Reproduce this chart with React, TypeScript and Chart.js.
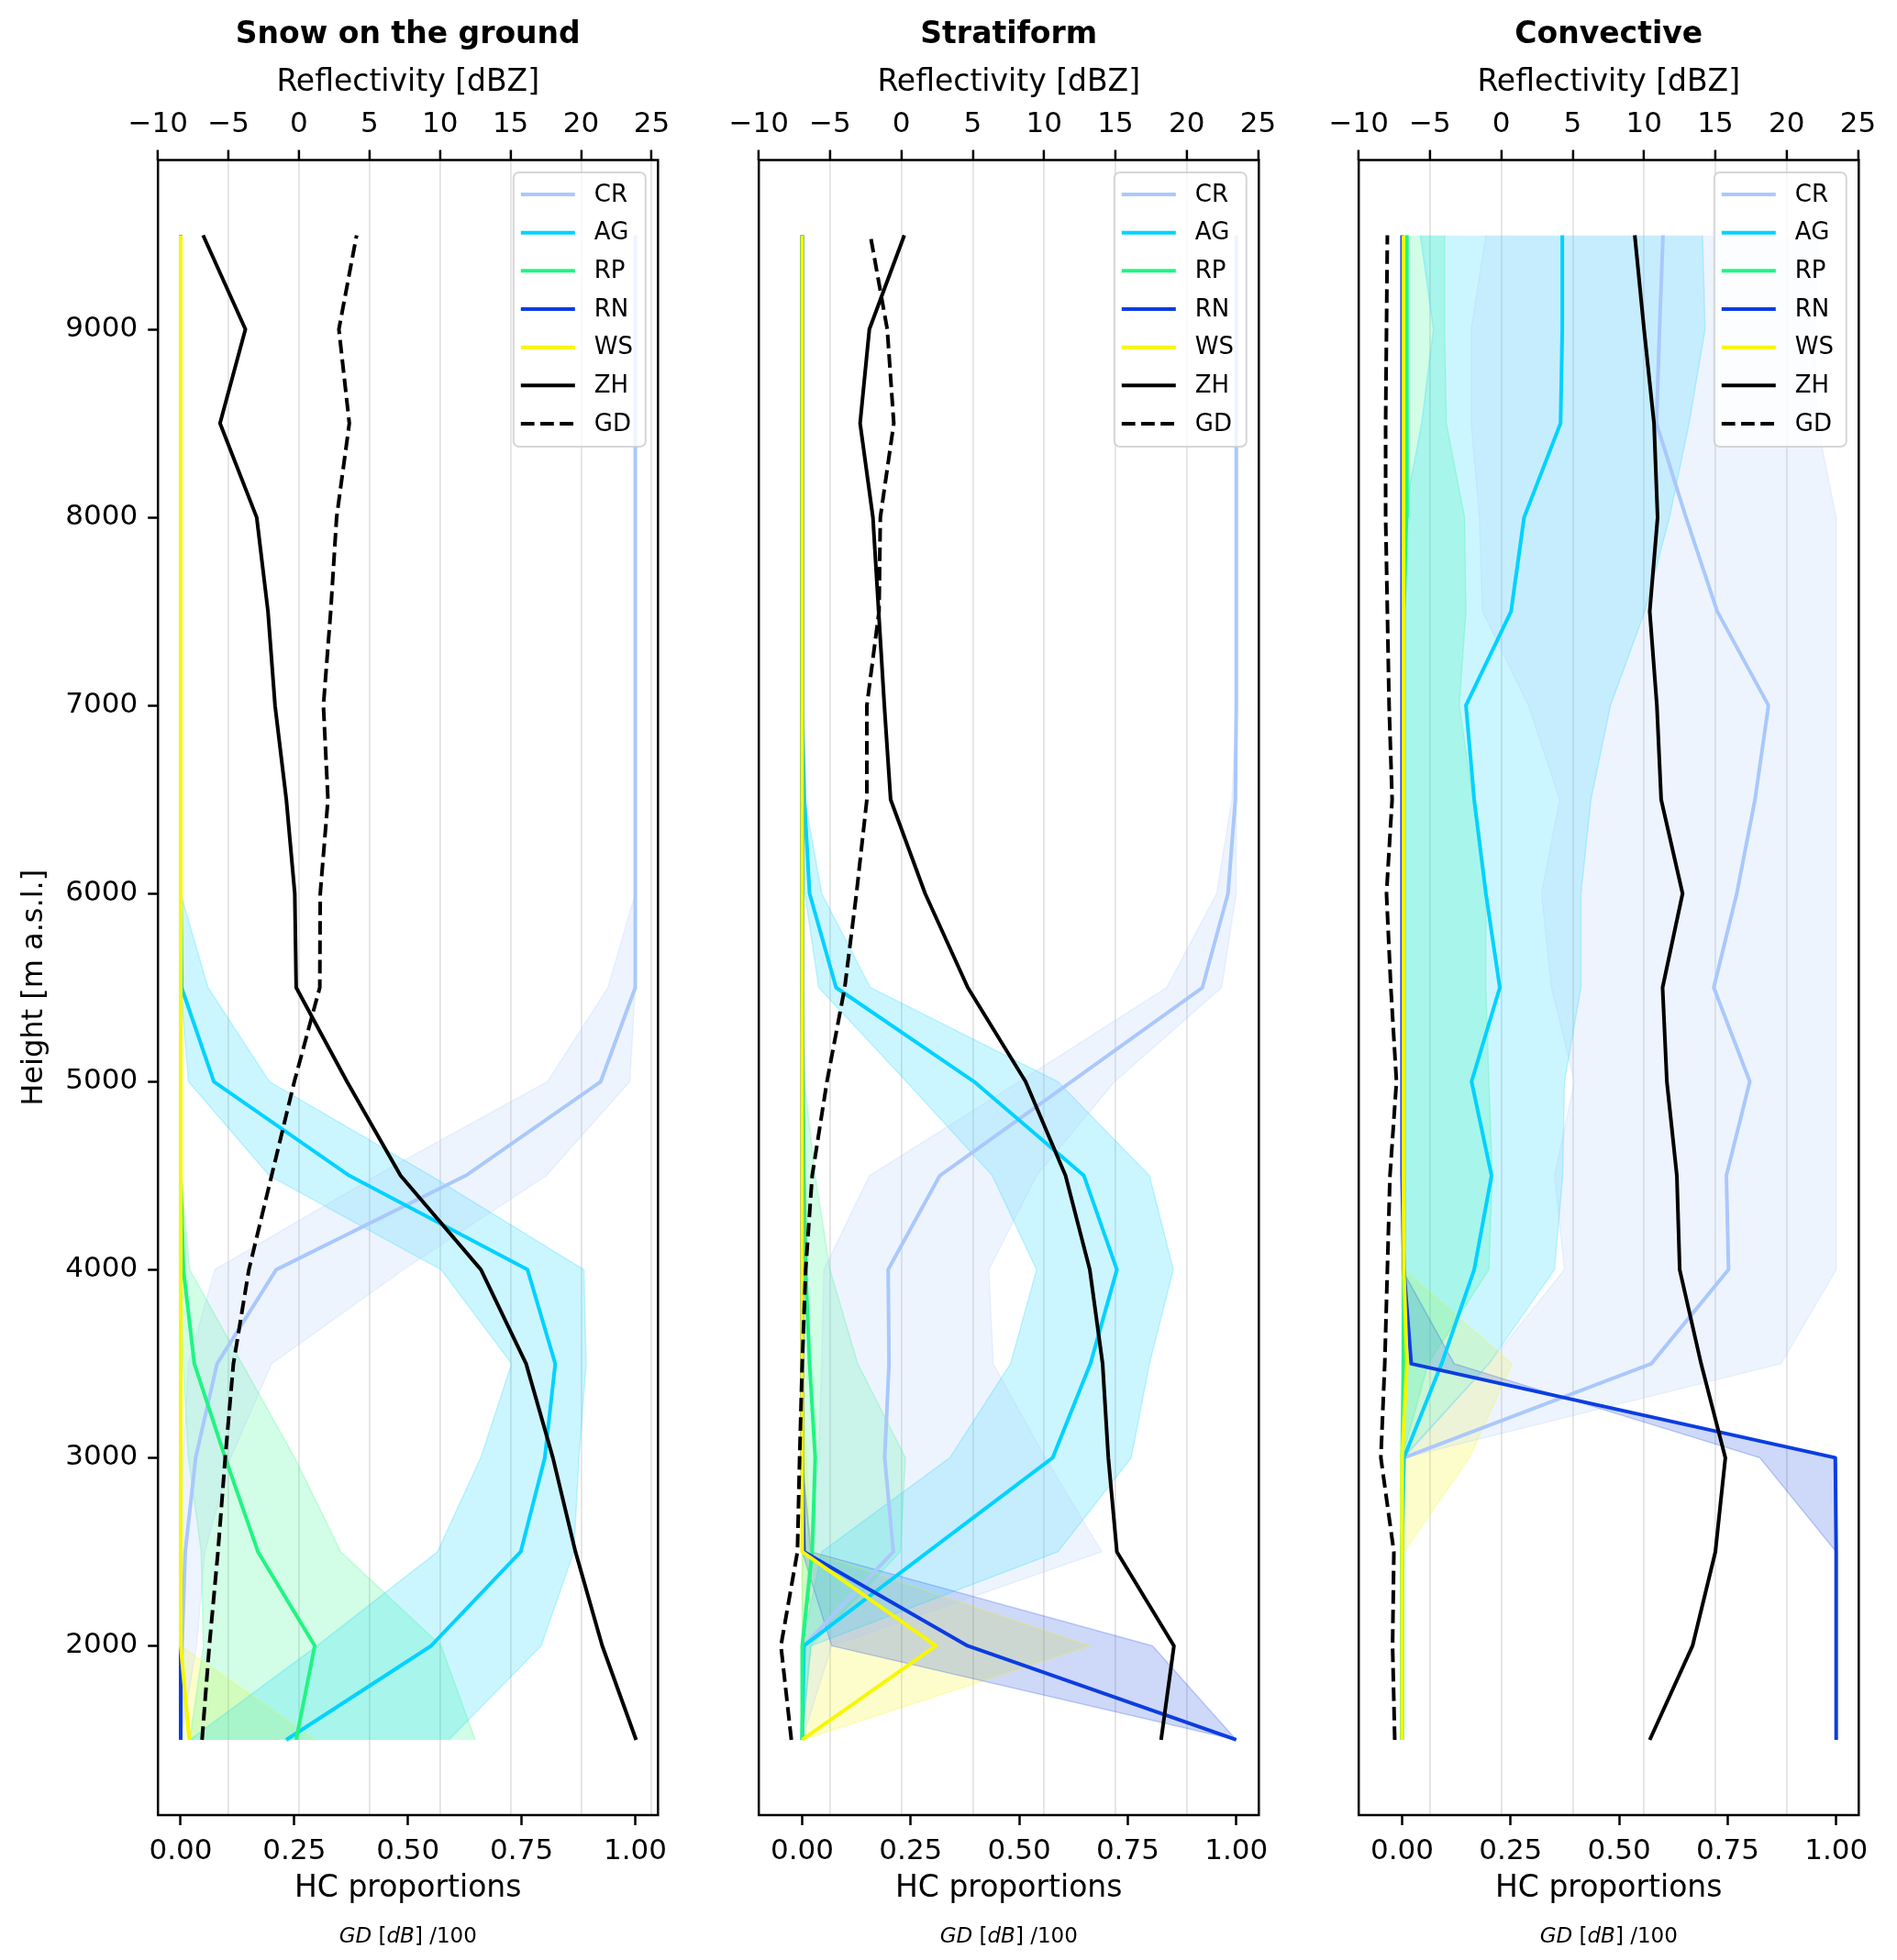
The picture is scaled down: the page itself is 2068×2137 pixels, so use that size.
import React, { useEffect, useRef } from 'react';
import { Chart, registerables } from 'chart.js';

Chart.register(...registerables);
Chart.defaults.font.family = '"DejaVu Sans", sans-serif';
Chart.defaults.color = '#000';

// heights of the profile levels [m a.s.l.]
const heights = [1500, 2000, 2500, 3000, 3500, 4000, 4500, 5000, 5500, 6000, 6500, 7000, 7500, 8000, 8500, 9000, 9500];

const zhTicks = [-10, -5, 0, 5, 10, 15, 20, 25];
const hcTicks = [0, 0.25, 0.5, 0.75, 1];
const heightTicks = [2000, 3000, 4000, 5000, 6000, 7000, 8000, 9000];

const hcNames = ['CR', 'AG', 'RP', 'RN', 'WS'];
const hcColors = ['#aac8fc', '#00d2ff', '#20f582', '#0b3de0', '#f7f700'];

// Snow on the ground
const snowZH = [23.9, 21.5, 19.6, 18.0, 16.1, 12.9, 7.2, 3.4, -0.2, -0.3, -0.9, -1.7, -2.2, -3.0, -5.6, -3.8, -6.8];
const snowGD = [0.047, 0.063, 0.082, 0.098, 0.116, 0.15, 0.2, 0.25, 0.306, 0.307, 0.324, 0.314, 0.33, 0.343, 0.371, 0.348, 0.387];
const snowCR = [0, 0.003, 0.01, 0.033, 0.08, 0.21, 0.627, 0.924, 1, 1, 1, 1, 1, 1, 1, 1, 1];
const snowCRlo = [0, 0, 0, 0.005, 0.017, 0.075, 0.43, 0.807, 0.94, 1, 1, 1, 1, 1, 1, 1, 1];
const snowCRhi = [0, 0.035, 0.053, 0.11, 0.2, 0.49, 0.804, 0.988, 1, 1, 1, 1, 1, 1, 1, 1, 1];
const snowAG = [0.232, 0.551, 0.748, 0.801, 0.824, 0.763, 0.371, 0.073, 0.002, 0, 0, 0, 0, 0, 0, 0, 0];
const snowAGlo = [0.02, 0.3, 0.565, 0.66, 0.728, 0.573, 0.195, 0.017, 0, 0, 0, 0, 0, 0, 0, 0, 0];
const snowAGhi = [0.59, 0.793, 0.865, 0.876, 0.892, 0.887, 0.55, 0.195, 0.06, 0, 0, 0, 0, 0, 0, 0, 0];
const snowRP = [0.254, 0.295, 0.17, 0.098, 0.03, 0.006, 0, 0, 0, 0, 0, 0, 0, 0, 0, 0, 0];
const snowRPlo = [0.02, 0.05, 0.045, 0.017, 0.005, 0, 0, 0, 0, 0, 0, 0, 0, 0, 0, 0, 0];
const snowRPhi = [0.648, 0.573, 0.352, 0.251, 0.135, 0.02, 0, 0, 0, 0, 0, 0, 0, 0, 0, 0, 0];
const snowRN = [0, 0, 0, 0, 0, 0, 0, 0, 0, 0, 0, 0, 0, 0, 0, 0, 0];
const snowRNlo = [0, 0, 0, 0, 0, 0, 0, 0, 0, 0, 0, 0, 0, 0, 0, 0, 0];
const snowRNhi = [0, 0, 0, 0, 0, 0, 0, 0, 0, 0, 0, 0, 0, 0, 0, 0, 0];
const snowWS = [0.019, 0, 0, 0, 0, 0, 0, 0, 0, 0, 0, 0, 0, 0, 0, 0, 0];
const snowWSlo = [0, 0, 0, 0, 0, 0, 0, 0, 0, 0, 0, 0, 0, 0, 0, 0, 0];
const snowWShi = [0.295, 0, 0, 0, 0, 0, 0, 0, 0, 0, 0, 0, 0, 0, 0, 0, 0];

// Stratiform
const stratZH = [18.2, 19.1, 15.1, 14.5, 14.1, 13.2, 11.5, 8.7, 4.65, 1.66, -0.76, -1.2, -1.6, -2.0, -2.9, -2.25, 0.2];
const stratGD = [-0.025, -0.049, -0.011, -0.006, 0.0, 0.008, 0.023, 0.057, 0.098, 0.125, 0.149, 0.149, 0.177, 0.18, 0.211, 0.196, 0.157];
const stratCR = [0, 0.004, 0.21, 0.19, 0.2, 0.198, 0.317, 0.62, 0.922, 0.981, 0.998, 1, 1, 1, 1, 1, 1];
const stratCRlo = [0, 0, 0.015, 0.038, 0.045, 0.05, 0.155, 0.5, 0.84, 0.955, 0.99, 1, 1, 1, 1, 1, 1];
const stratCRhi = [0, 0.068, 0.69, 0.56, 0.44, 0.43, 0.54, 0.72, 0.966, 1, 1, 1, 1, 1, 1, 1, 1];
const stratAG = [0, 0.004, 0.29, 0.577, 0.664, 0.725, 0.649, 0.396, 0.078, 0.017, 0.005, 0, 0, 0, 0, 0, 0];
const stratAGlo = [0, 0, 0.045, 0.34, 0.48, 0.54, 0.438, 0.24, 0.038, 0.006, 0, 0, 0, 0, 0, 0, 0];
const stratAGhi = [0, 0.02, 0.589, 0.758, 0.8, 0.855, 0.8, 0.589, 0.157, 0.045, 0.006, 0, 0, 0, 0, 0, 0];
const stratRP = [0, 0, 0.023, 0.03, 0.017, 0.008, 0.004, 0.002, 0, 0, 0, 0, 0, 0, 0, 0, 0];
const stratRPlo = [0, 0, 0, 0, 0, 0, 0, 0, 0, 0, 0, 0, 0, 0, 0, 0, 0];
const stratRPhi = [0, 0.02, 0.226, 0.238, 0.128, 0.064, 0.03, 0.005, 0, 0, 0, 0, 0, 0, 0, 0, 0];
const stratRN = [1, 0.381, 0.004, 0, 0, 0, 0, 0, 0, 0, 0, 0, 0, 0, 0, 0, 0];
const stratRNlo = [1, 0.068, 0, 0, 0, 0, 0, 0, 0, 0, 0, 0, 0, 0, 0, 0, 0];
const stratRNhi = [1, 0.807, 0.02, 0, 0, 0, 0, 0, 0, 0, 0, 0, 0, 0, 0, 0, 0];
const stratWS = [0, 0.308, 0, 0, 0, 0, 0, 0, 0, 0, 0, 0, 0, 0, 0, 0, 0];
const stratWSlo = [0, 0, 0, 0, 0, 0, 0, 0, 0, 0, 0, 0, 0, 0, 0, 0, 0];
const stratWShi = [0, 0.664, 0.02, 0.01, 0, 0, 0, 0, 0, 0, 0, 0, 0, 0, 0, 0, 0];

// Convective
const convZH = [10.4, 13.4, 15.0, 15.7, 14.0, 12.5, 12.3, 11.6, 11.3, 12.7, 11.2, 10.9, 10.4, 10.95, 10.7, 10.0, 9.35];
const convGD = [-0.017, -0.022, -0.019, -0.049, -0.04, -0.034, -0.028, -0.013, -0.026, -0.036, -0.023, -0.03, -0.034, -0.038, -0.038, -0.036, -0.034];
const convCR = [0, 0, 0, 0.004, 0.574, 0.752, 0.747, 0.801, 0.718, 0.771, 0.813, 0.844, 0.726, 0.654, 0.586, 0.593, 0.601];
const convCRlo = [0, 0, 0, 0, 0.2, 0.374, 0.351, 0.397, 0.344, 0.321, 0.363, 0.291, 0.185, 0.178, 0.159, 0.159, 0.193];
const convCRhi = [0, 0, 0, 0.005, 0.873, 1, 1, 1, 1, 1, 1, 1, 1, 1, 0.956, 0.95, 0.96];
const convAG = [0, 0, 0, 0.004, 0.091, 0.166, 0.206, 0.16, 0.225, 0.193, 0.166, 0.147, 0.251, 0.281, 0.365, 0.369, 0.369];
const convAGlo = [0, 0, 0, 0, 0, 0, 0, 0, 0, 0, 0, 0, 0, 0.004, 0.045, 0.072, 0.042];
const convAGhi = [0, 0, 0, 0.004, 0.2, 0.351, 0.37, 0.374, 0.412, 0.412, 0.435, 0.48, 0.559, 0.616, 0.661, 0.698, 0.692];
const convRP = [0, 0, 0, 0, 0.003, 0.004, 0.004, 0.004, 0.004, 0.004, 0.004, 0.004, 0.004, 0.01, 0.011, 0.011, 0.011];
const convRPlo = [0, 0, 0, 0, 0, 0, 0, 0, 0, 0, 0, 0, 0, 0, 0, 0, 0];
const convRPhi = [0, 0, 0, 0, 0.06, 0.2, 0.208, 0.2, 0.193, 0.193, 0.163, 0.132, 0.147, 0.144, 0.102, 0.098, 0.098];
const convRN = [1, 1, 1, 0.998, 0.021, 0.004, 0, 0, 0, 0, 0, 0, 0, 0, 0, 0, 0];
const convRNlo = [1, 1, 1, 0.824, 0.12, 0, 0, 0, 0, 0, 0, 0, 0, 0, 0, 0, 0];
const convRNhi = [1, 1, 1, 1, 0.021, 0, 0, 0, 0, 0, 0, 0, 0, 0, 0, 0, 0];
const convWS = [0, 0, 0, 0, 0.011, 0.004, 0.003, 0.003, 0.003, 0.003, 0.003, 0.003, 0.003, 0.003, 0.003, 0.003, 0.003];
const convWSlo = [0, 0, 0, 0, 0, 0, 0, 0, 0, 0, 0, 0, 0, 0, 0, 0, 0];
const convWShi = [0, 0, 0.004, 0.155, 0.253, 0.004, 0.003, 0.003, 0.003, 0.003, 0.003, 0.003, 0.003, 0.003, 0.003, 0.003, 0.003];

interface PanelProps {
  title: string;
  zh: number[];
  gd: number[];
  hc: number[][];
  lo: number[][];
  hi: number[][];
  xMin: number;
  xMax: number;
  zMax: number;
  showY: boolean;
  left: number;
}

// canvas geometry (chart area is the same in every panel)
const W = 760;
const H = 2137;
const AREA_LEFT = 172.2;
const AREA_TOP = 174.5;
const AREA_BOTTOM = 1979;
const AREA_RIGHT = 717.3;

const rgba = (hex: string, a: number) => {
  const n = parseInt(hex.slice(1), 16);
  return `rgba(${n >> 16}, ${(n >> 8) & 255}, ${n & 255}, ${a})`;
};

const pts = (vals: number[]) => vals.map((v, i) => ({ x: v, y: heights[i] }));

const minus = (v: number) => (v < 0 ? '\u2212' + Math.abs(v) : String(v));

const makeDecor = (title: string) => ({
  id: 'decor',
  afterDraw(chart: any) {
    const { ctx, chartArea: a } = chart;
    ctx.save();
    ctx.setLineDash([]);
    ctx.strokeStyle = '#000';
    ctx.lineWidth = 2.5;
    ctx.strokeRect(a.left, a.top, a.right - a.left, a.bottom - a.top);

    const cx = (a.left + a.right) / 2;
    ctx.fillStyle = '#000';
    ctx.textBaseline = 'middle';
    ctx.textAlign = 'center';
    ctx.font = 'bold 33px "DejaVu Sans"';
    ctx.fillText(title, cx, 38);

    // GD [dB] /100 under the axis title (math text: italic letters)
    const parts: [string, boolean][] = [['GD', true], [' [', false], ['dB', true], ['] /100', false]];
    const fontOf = (it: boolean) => (it ? 'italic ' : '') + '23px "DejaVu Sans"';
    let total = 0;
    parts.forEach(([t, it]) => {
      ctx.font = fontOf(it);
      total += ctx.measureText(t).width;
    });
    let x = cx - total / 2;
    ctx.textAlign = 'left';
    parts.forEach(([t, it]) => {
      ctx.font = fontOf(it);
      ctx.fillText(t, x, 2112);
      x += ctx.measureText(t).width;
    });

    // legend, upper right inside the axes
    const items = [
      ...hcNames.map((n, i) => ({ label: n, color: hcColors[i], dash: [] as number[] })),
      { label: 'ZH', color: '#000', dash: [] as number[] },
      { label: 'GD', color: '#000', dash: [14.8, 6.4] },
    ];
    const bw = 144;
    const bh = 299;
    const bx = a.right - 13.5 - bw;
    const by = a.top + 13.5;
    ctx.beginPath();
    ctx.roundRect(bx, by, bw, bh, 6);
    ctx.fillStyle = 'rgba(255,255,255,0.8)';
    ctx.fill();
    ctx.strokeStyle = 'rgba(204,204,204,0.8)';
    ctx.lineWidth = 2;
    ctx.stroke();
    ctx.font = '26px "DejaVu Sans"';
    ctx.textBaseline = 'middle';
    items.forEach((it, i) => {
      const y = by + 24 + i * 41.67;
      ctx.beginPath();
      ctx.setLineDash(it.dash);
      ctx.strokeStyle = it.color;
      ctx.lineWidth = 4;
      ctx.moveTo(bx + 8, y);
      ctx.lineTo(bx + 67, y);
      ctx.stroke();
      ctx.setLineDash([]);
      ctx.fillStyle = '#000';
      ctx.fillText(it.label, bx + 88, y + 1);
    });
    ctx.restore();
  },
});

const Panel: React.FC<PanelProps> = (p) => {
  const canvasRef = useRef<HTMLCanvasElement | null>(null);

  useEffect(() => {
    if (!canvasRef.current) return;
    const ctx = canvasRef.current.getContext('2d');
    if (!ctx) return;

    const datasets: any[] = [];
    // HC proportion profiles
    p.hc.forEach((vals, k) => {
      datasets.push({
        label: hcNames[k],
        data: pts(vals),
        xAxisID: 'x',
        borderColor: hcColors[k],
        borderWidth: 4,
        borderJoinStyle: 'round',
        pointRadius: 0,
        fill: false,
        order: 6 - k,
      });
    });
    datasets.push({
      label: 'ZH',
      data: pts(p.zh),
      xAxisID: 'x2',
      borderColor: '#000',
      borderWidth: 4,
      borderJoinStyle: 'round',
      pointRadius: 0,
      fill: false,
      order: 1,
    });
    datasets.push({
      label: 'GD',
      data: pts(p.gd),
      xAxisID: 'x',
      borderColor: '#000',
      borderWidth: 4,
      borderDash: [14.8, 6.4],
      pointRadius: 0,
      fill: false,
      order: 0,
    });
    // spread bands of each HC
    p.hc.forEach((_, k) => {
      datasets.push({
        label: hcNames[k] + ' lo',
        data: pts(p.lo[k]),
        xAxisID: 'x',
        borderColor: rgba(hcColors[k], 0.22),
        borderWidth: 1.5,
        pointRadius: 0,
        fill: false,
        order: 20,
      });
      datasets.push({
        label: hcNames[k] + ' hi',
        data: pts(p.hi[k]),
        xAxisID: 'x',
        borderColor: rgba(hcColors[k], 0.22),
        backgroundColor: rgba(hcColors[k], 0.2),
        borderWidth: 1.5,
        pointRadius: 0,
        fill: '-1',
        order: 20,
      });
    });

    const chart = new Chart(ctx, {
      type: 'line',
      data: { datasets },
      plugins: [makeDecor(p.title)],
      options: {
        indexAxis: 'y',
        animation: false,
        responsive: false,
        events: [],
        layout: { padding: { left: 0, top: 0, bottom: 0, right: W - AREA_RIGHT } },
        plugins: {
          legend: { display: false },
          tooltip: { enabled: false },
          filler: { drawTime: 'beforeDatasetsDraw' },
        },
        scales: {
          x: {
            type: 'linear',
            position: 'bottom',
            min: p.xMin,
            max: p.xMax,
            afterBuildTicks: (s: any) => {
              s.ticks = hcTicks.map((v) => ({ value: v }));
            },
            afterFit: (s: any) => {
              s.height = H - AREA_BOTTOM;
            },
            border: { display: false },
            grid: { drawOnChartArea: false, tickLength: 11, tickColor: '#000', tickWidth: 2.5 },
            ticks: {
              font: { size: 31 },
              color: '#000',
              padding: 10,
              maxRotation: 0,
              autoSkip: false,
              callback: (v: any) => Number(v).toFixed(2),
            },
            title: {
              display: true,
              text: 'HC proportions',
              font: { size: 33 },
              color: '#000',
              padding: { top: 0, bottom: 58 },
            },
          },
          x2: {
            type: 'linear',
            position: 'top',
            min: -10,
            max: p.zMax,
            afterBuildTicks: (s: any) => {
              s.ticks = zhTicks.map((v) => ({ value: v }));
            },
            afterFit: (s: any) => {
              s.height = AREA_TOP;
            },
            border: { display: false },
            grid: {
              drawOnChartArea: true,
              color: 'rgba(176,176,176,0.35)',
              lineWidth: 1.8,
              tickLength: 11,
              tickColor: '#000',
              tickWidth: 2.5,
            },
            ticks: {
              font: { size: 31 },
              color: '#000',
              padding: 9,
              maxRotation: 0,
              autoSkip: false,
              callback: (v: any) => minus(Number(v)),
            },
            title: {
              display: true,
              text: 'Reflectivity [dBZ]',
              font: { size: 33 },
              color: '#000',
              padding: { top: 71, bottom: 0 },
            },
          },
          y: {
            type: 'linear',
            position: 'left',
            min: 1100,
            max: 9900,
            afterBuildTicks: (s: any) => {
              s.ticks = heightTicks.map((v) => ({ value: v }));
            },
            afterFit: (s: any) => {
              s.width = AREA_LEFT;
            },
            border: { display: false },
            grid: p.showY
              ? { drawOnChartArea: false, tickLength: 11, tickColor: '#000', tickWidth: 2.5 }
              : { display: false },
            ticks: {
              display: p.showY,
              font: { size: 31 },
              color: '#000',
              padding: 11,
              autoSkip: false,
              callback: (v: any) => String(v),
            },
            title: {
              display: p.showY,
              text: 'Height [m a.s.l.]',
              font: { size: 32 },
              color: '#000',
              padding: { top: 18, bottom: 0 },
            },
          },
        },
      } as any,
    });

    return () => {
      chart.destroy();
    };
  }, [p]);

  return (
    <canvas
      ref={canvasRef}
      width={W}
      height={H}
      style={{ position: 'absolute', left: p.left, top: 0, width: W, height: H }}
    />
  );
};

const panels: PanelProps[] = [
  {
    title: 'Snow on the ground',
    zh: snowZH,
    gd: snowGD,
    hc: [snowCR, snowAG, snowRP, snowRN, snowWS],
    lo: [snowCRlo, snowAGlo, snowRPlo, snowRNlo, snowWSlo],
    hi: [snowCRhi, snowAGhi, snowRPhi, snowRNhi, snowWShi],
    xMin: -0.05,
    xMax: 1.05,
    zMax: 25.45,
    showY: true,
    left: 0,
  },
  {
    title: 'Stratiform',
    zh: stratZH,
    gd: stratGD,
    hc: [stratCR, stratAG, stratRP, stratRN, stratWS],
    lo: [stratCRlo, stratAGlo, stratRPlo, stratRNlo, stratWSlo],
    hi: [stratCRhi, stratAGhi, stratRPhi, stratRNhi, stratWShi],
    xMin: -0.1,
    xMax: 1.052,
    zMax: 25.05,
    showY: false,
    left: 654.5,
  },
  {
    title: 'Convective',
    zh: convZH,
    gd: convGD,
    hc: [convCR, convAG, convRP, convRN, convWS],
    lo: [convCRlo, convAGlo, convRPlo, convRNlo, convWSlo],
    hi: [convCRhi, convAGhi, convRPhi, convRNhi, convWShi],
    xMin: -0.1,
    xMax: 1.052,
    zMax: 25.05,
    showY: false,
    left: 1309,
  },
];

export default function App() {
  return (
    <div style={{ position: 'absolute', left: 0, top: 0, width: 2068, height: 2137, background: '#fff' }}>
      {panels.map((p) => (
        <Panel key={p.title} {...p} />
      ))}
    </div>
  );
}
